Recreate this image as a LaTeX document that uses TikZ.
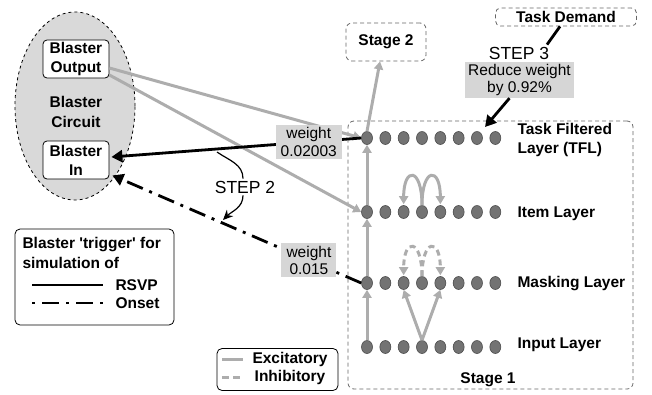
\documentclass[tikz,border=0pt]{standalone}
\usepackage{fontspec}
\setmainfont{Liberation Sans}[Ligatures=TeXOff]
\usetikzlibrary{arrows.meta,shapes.geometric}
\definecolor{excgray}{gray}{0.68}
\definecolor{boxgray}{gray}{0.84}
\definecolor{circgray}{gray}{0.85}
\definecolor{dotfill}{gray}{0.45}
\definecolor{dotline}{gray}{0.30}
\definecolor{dashline}{gray}{0.40}
\begin{document}
\begin{tikzpicture}[x=1pt,y=-1pt,
  font=\fontsize{15.5}{18}\selectfont,
  neuron/.style={ellipse,draw=dotline,fill=dotfill,line width=0.6pt,minimum width=11pt,minimum height=13pt,inner sep=0pt},
  bbox/.style={draw,rounded corners=4pt,fill=white,align=center,font=\fontsize{15.5}{19}\selectfont\bfseries,minimum width=66pt,minimum height=38pt,inner sep=1pt,line width=0.8pt},
  dbox/.style={draw=dashline,dash pattern=on 4pt off 3pt,rounded corners=6pt,line width=0.8pt,align=center,font=\fontsize{15.5}{18}\selectfont\bfseries},
  wbox/.style={fill=boxgray,align=center,inner sep=2pt,minimum height=34pt,font=\fontsize{15.5}{17.5}\selectfont},
  lbl/.style={anchor=west,align=left,font=\fontsize{15.5}{19.5}\selectfont\bfseries},
  steptext/.style={font=\fontsize{17.5}{18}\selectfont,inner sep=2pt},
  exc/.style={draw=excgray,line width=3pt,-{Triangle[length=8pt,width=9pt]}},
  inh/.style={exc,dash pattern=on 6pt off 4pt},
  rsvp/.style={line width=2.8pt,-{Triangle[length=11pt,width=12pt]}},
  onset/.style={rsvp,dash pattern=on 17pt off 7pt on 3pt off 7pt},
  stepline/.style={line width=1.2pt}]
\useasboundingbox (0,0) rectangle (652,394);

\node[ellipse,draw,dashed,fill=circgray,line width=0.8pt,minimum width=120pt,minimum height=188pt] (circuit) at (75,106) {};
\node[font=\fontsize{15.5}{19.5}\selectfont\bfseries,align=center] (circlbl) at (76,112) {Blaster\\Circuit};
\node[bbox] (bout) at (76,59) {Blaster\\Output};
\node[bbox] (bin) at (76,160) {Blaster\\In};

\node[dbox,minimum width=285pt,minimum height=268pt] (stageone) at (490.5,255) {};
\node[font=\fontsize{15.5}{18}\selectfont\bfseries] (stageonelbl) at (488,380) {Stage 1};
\node[dbox,minimum width=80pt,minimum height=38pt] (stagetwo) at (386,42) {Stage 2};
\node[dbox,rounded corners=5pt,minimum width=141pt,minimum height=18pt,inner sep=0pt] (task) at (566,17) {Task Demand};

\foreach \k in {1,...,8}{
\node[neuron] (t\k) at ({367+(\k-1)*18.33},138) {};
\node[neuron] (i\k) at ({367+(\k-1)*18.33},212) {};
\node[neuron] (m\k) at ({367+(\k-1)*18.33},283) {};
\node[neuron] (n\k) at ({367+(\k-1)*18.33},347) {};
}
\node[lbl] (tfllbl) at (514,140) {Task Filtered\\Layer (TFL)};
\node[lbl] (itemlbl) at (514,214) {Item Layer};
\node[lbl] (masklbl) at (514,284) {Masking Layer};
\node[lbl] (inputlbl) at (514,345) {Input Layer};

\draw[exc] (n1.north) -- (m1.south);
\draw[exc] (m1.north) -- (i1.south);
\draw[exc] (i1.north) -- (t1.south);
\draw[exc] (t1.north) -- ([xshift=-6pt]stagetwo.south);
\draw[exc] (i4.north) .. controls +(0,-38) and +(0,-38) .. ([yshift=1pt]i3.north);
\draw[exc] (i4.north) .. controls +(0,-38) and +(0,-38) .. ([yshift=1pt]i5.north);
\draw[inh] (m4.north) .. controls +(0,-38) and +(0,-38) .. ([yshift=1pt]m3.north);
\draw[inh] (m4.north) .. controls +(0,-38) and +(0,-38) .. ([yshift=1pt]m5.north);
\draw[exc] (n4.north) -- (m3.south);
\draw[exc] (n4.north) -- (m5.south);

\draw[exc] ([yshift=-9pt]bout.east) -- (t1.west);
\draw[exc] ([yshift=-16pt]bout.east) -- (i1.west);
\draw[rsvp] (t1.west) -- ([xshift=2pt,yshift=3pt]bin.east)
  node[wbox,minimum width=66pt,pos=0.21] (wtfl) {weight\\0.02003};
\draw[onset] (m1.west) -- ([xshift=3pt,yshift=4pt]bin.south east)
  node[wbox,minimum width=55pt,pos=0.21] (wmask) {weight\\0.015};

\node[steptext] (steptwo) at (245,187) {STEP 2};
\coordinate (stepfrom) at (217,152);
\coordinate (stepto) at (223,220);
\draw[stepline] (stepfrom) to[out=-35,in=90] ([xshift=-2pt]steptwo.north);
\draw[stepline,-{Stealth[length=10pt,width=9pt]}] ([xshift=-2pt]steptwo.south) to[out=-90,in=45] (stepto);

\node[steptext] (stepthree) at (519,53) {STEP 3};
\node[wbox,minimum width=109pt] (reduce) at (519.5,80) {Reduce weight\\by 0.92\%};
\coordinate (tflin) at (485,127);
\draw[line width=2.8pt] ([xshift=-6pt]task.south) -- ([xshift=28pt]stepthree.north);
\draw[rsvp] ([xshift=-10pt]reduce.south) -- (tflin);

\node[draw,rounded corners=5pt,line width=0.8pt,minimum width=159pt,minimum height=96pt] (trigger) at (94.5,277) {};
\node[lbl,anchor=north west] (triggerlbl) at (19,234) {Blaster 'trigger' for\\simulation of};
\draw[line width=2.8pt] (32,285) -- (103,285);
\draw[line width=2.8pt,dash pattern=on 3pt off 7pt on 17pt off 7pt] (32,303) -- (103,303);
\node[lbl] (rsvplbl) at (112,285) {RSVP};
\node[lbl] (onsetlbl) at (112,303) {Onset};

\node[draw,rounded corners=5pt,line width=0.8pt,minimum width=121pt,minimum height=42pt] (kind) at (277.5,369.5) {};
\draw[draw=excgray,line width=3pt] (222,359) -- (243,359);
\draw[draw=excgray,line width=3pt,dash pattern=on 7pt off 4pt] (222,377) -- (243,377);
\node[font=\fontsize{15.5}{18}\selectfont\bfseries] (exclbl) at (290,359) {Excitatory};
\node[font=\fontsize{15.5}{18}\selectfont\bfseries] (inhlbl) at (290,377) {Inhibitory};
\end{tikzpicture}
\end{document}
